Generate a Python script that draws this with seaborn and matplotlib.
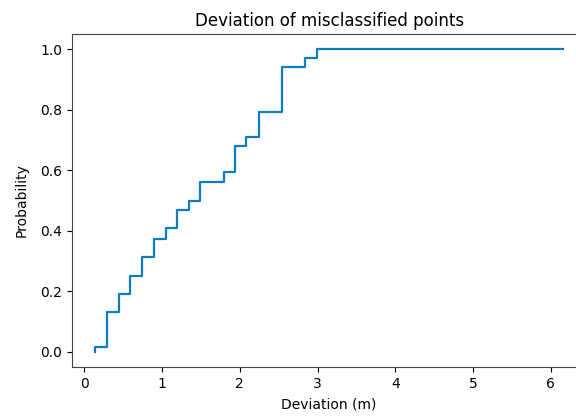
import matplotlib
matplotlib.use("Agg")
import matplotlib.pyplot as plt
import seaborn as sns
import pandas as pd

# Step positions (deviation, m) and cumulative probabilities
deviation = [0.144, 0.144, 0.294, 0.444, 0.594, 0.742, 0.893, 1.046, 1.194, 1.343,
             1.494, 1.793, 1.940, 2.087, 2.245, 2.540, 2.843, 2.994, 6.150]
probability = [0.0, 0.016, 0.133, 0.190, 0.252, 0.315, 0.374, 0.408, 0.468, 0.498,
               0.560, 0.593, 0.681, 0.711, 0.793, 0.940, 0.971, 1.000, 1.000]

title = "Deviation of misclassified points"
xlabel = "Deviation (m)"
ylabel = "Probability"

plt.rcParams["font.family"] = ["DejaVu Sans"]

df = pd.DataFrame({"Deviation": deviation, "Probability": probability})

fig = plt.figure(figsize=(5.76, 4.19), dpi=100)
ax = fig.add_axes([0.125, 0.1241, 0.893, 0.7947])
sns.lineplot(data=df, x="Deviation", y="Probability", estimator=None, sort=False,
             drawstyle="steps-post", color="#0C7DC0", linewidth=1.6, ax=ax)
ax.set_xlim(-0.156, 6.456)
ax.set_ylim(-0.05, 1.05)
ax.set_xticks([0, 1, 2, 3, 4, 5, 6])
ax.set_yticks([0.0, 0.2, 0.4, 0.6, 0.8, 1.0])
ax.set_title(title, fontsize=12)
ax.set_xlabel(xlabel, fontsize=10, labelpad=5)
ax.set_ylabel(ylabel, fontsize=10, labelpad=8.5)
ax.tick_params(labelsize=10)
for s in ax.spines.values():
    s.set_color("#444444")
fig.savefig("out.png", dpi=100)
